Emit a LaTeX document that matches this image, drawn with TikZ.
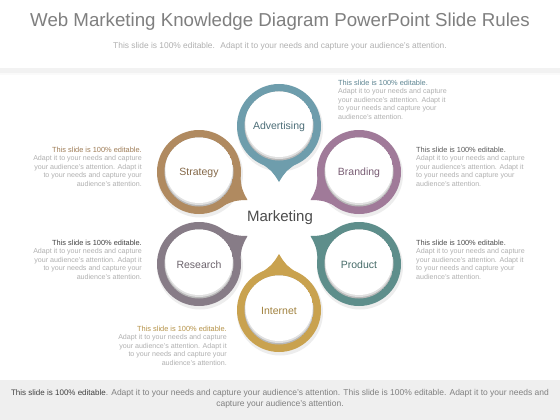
\documentclass[tikz,border=0pt]{standalone}
\usepackage{fontspec}
\setmainfont{Liberation Sans}
\definecolor{cadv}{HTML}{6E9DAC}
\definecolor{cstr}{HTML}{B08A60}
\definecolor{cbra}{HTML}{A07A99}
\definecolor{cres}{HTML}{877C87}
\definecolor{cpro}{HTML}{5E8E8B}
\definecolor{cint}{HTML}{C9A24F}
\definecolor{titlegrey}{HTML}{7F7F7F}
\definecolor{subgrey}{HTML}{B0B0B0}
\definecolor{bandgrey}{HTML}{EFEFEF}
\newcommand\mybubble[4]{% name, center, screen angle, colour
  \begin{scope}[shift={#2}]
    \fill[black!7] (1,2.5) circle (43);
    \fill[#4] (0,0) circle (42);
    \fill[#4] (#3+28:41) .. controls (#3+8:46) .. (#3:56)
                .. controls (#3-8:46) .. (#3-28:41) -- cycle;
    \begin{scope}
      \clip (0,0) circle (34.5);
      \fill[black!28] (0,0) circle (34.5);
      \fill[black!12] (0,-1.2) circle (34.2);
      \fill[white] (0,-2.6) circle (33.6);
    \end{scope}
  \end{scope}
}
\tikzset{
  bublabel/.style={font=\fontsize{10.5}{12}\selectfont, inner sep=0pt},
  sidel/.style={font=\fontsize{7.1}{8.4}\selectfont, align=left, anchor=north west, inner sep=0pt, text=subgrey},
  sider/.style={font=\fontsize{7.1}{8.4}\selectfont, align=right, anchor=north east, inner sep=0pt, text=subgrey},
}
\newcommand\blk[1]{{\fontsize{7.4}{8.4}\selectfont\color{#1}This slide is 100\% editable.}\\Adapt it to your needs and capture\\your audience's attention. Adapt it\\to your needs and capture your\\audience's attention.}
\begin{document}
\begin{tikzpicture}[x=1pt,y=-1pt]
  \useasboundingbox (0,0) rectangle (560,420);
  \fill[white] (0,0) rectangle (560,420);
  \fill[black!5] (0,68) rectangle (560,73);
  \fill[black!2] (0,73) rectangle (560,75);
  \fill[bandgrey] (0,380) rectangle (560,420);

  \node[text=titlegrey, font=\fontsize{18.7}{21}\selectfont, inner sep=0pt] (title) at (280,22) {Web Marketing Knowledge Diagram PowerPoint Slide Rules};
  \node[text=subgrey, font=\fontsize{8.4}{10}\selectfont, inner sep=0pt] (sub) at (280,46) {This slide is 100\% editable.~ Adapt it to your needs and capture your audience's attention.};

  \mybubble{adv}{(279,126)}{90}{cadv}
  \mybubble{str}{(199,172)}{30}{cstr}
  \mybubble{bra}{(359,172)}{150}{cbra}
  \mybubble{res}{(199,264)}{-30}{cres}
  \mybubble{pro}{(359,264)}{-150}{cpro}
  \mybubble{int}{(279,310)}{-90}{cint}

  \node[bublabel, text=cadv!70!black] (adv) at (279,127) {Advertising};
  \node[bublabel, text=cstr!75!black] (str) at (199,173) {Strategy};
  \node[bublabel, text=cbra!75!black] (bra) at (359,173) {Branding};
  \node[bublabel, text=cres!80!black] (res) at (199,265) {Research};
  \node[bublabel, text=cpro!75!black] (pro) at (359,265) {Product};
  \node[bublabel, text=cint!80!black] (int) at (279,311) {Internet};
  \node[text=black!70, font=\fontsize{15}{17}\selectfont, inner sep=0pt] (mkt) at (280,218) {Marketing};

  \node[sidel] (tadv) at (338,80) {\blk{cadv!85!black}};
  \node[sider] (tstr) at (142,147) {\blk{cstr!90!black}};
  \node[sidel] (tbra) at (416,147) {\blk{black!65}};
  \node[sider] (tres) at (142,240) {\blk{black!75}};
  \node[sidel] (tpro) at (416,240) {\blk{black!70}};
  \node[sider] (tint) at (227,326) {\blk{cint!90!black}};

  \node[font=\fontsize{8.5}{11.5}\selectfont, text=black!50, align=center, inner sep=0pt] (foot) at (280,399)
   {{\fontsize{8}{11.5}\selectfont\color{black!75}This slide is 100\% editable}. Adapt it to your needs and capture your audience's attention. This slide is 100\% editable. Adapt it to your needs and\\capture your audience's attention.};
\end{tikzpicture}
\end{document}
